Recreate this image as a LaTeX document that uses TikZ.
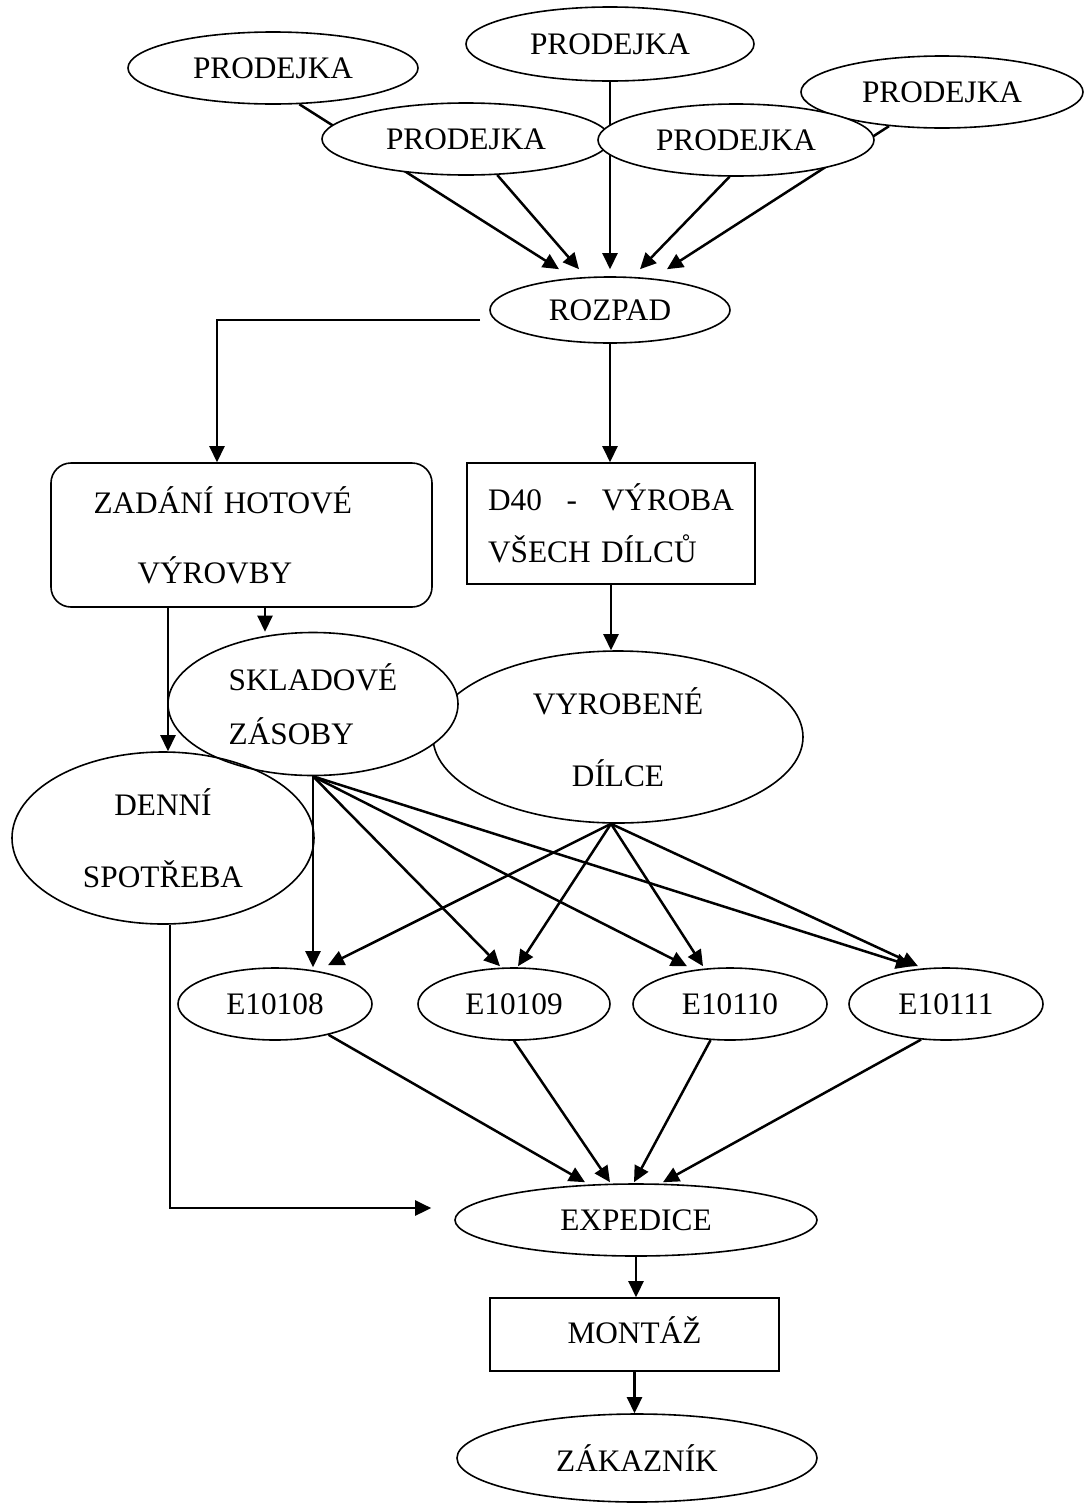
\documentclass[tikz,border=0pt]{standalone}
\usepackage{fontspec}
\setmainfont{Liberation Serif}
\usetikzlibrary{shapes.geometric, arrows.meta, calc}

\begin{document}
\begin{tikzpicture}[x=1pt, y=-1pt, font=\fontsize{31.3}{37.5}\selectfont,
  oval/.style={draw, ellipse, line width=1.6pt, inner sep=0pt},
  box/.style={draw, rectangle, line width=1.6pt, inner sep=0pt},
  arr/.style={line width=2.5pt, -{Triangle[length=16pt, width=15pt]}}]

\useasboundingbox (0,0) rectangle (1086,1505);

\node[oval, minimum width=290pt, minimum height=72pt] (tl) at (273,68) {PRODEJKA};
\node[oval, minimum width=288pt, minimum height=74pt] (tc) at (610,44) {PRODEJKA};
\node[oval, minimum width=282pt, minimum height=72pt] (tr) at (942,92) {PRODEJKA};
\node[oval, minimum width=240pt, minimum height=66pt] (rozpad) at (610,310) {ROZPAD};

\draw[arr] (tl.-54) -- ($(rozpad.north)+(-51,-7)$);
\draw[arr] (tc) -- ($(rozpad.north)+(0,-7)$);
\draw[arr] (tr) -- ($(rozpad.north)+(57,-7)$);

\node[oval, fill=white, minimum width=288pt, minimum height=72pt] (ml) at (466,139) {PRODEJKA};
\node[oval, fill=white, minimum width=276pt, minimum height=72pt] (mr) at (736,140) {PRODEJKA};

\draw[arr] (ml) -- ($(rozpad.north)+(-31,-7)$);
\draw[arr] (mr.-100) -- ($(rozpad.north)+(30,-7)$);

\node[box, rounded corners=20pt, minimum width=381pt, minimum height=144pt, text width=296pt, align=left] (zadani) at (241.5,535) {ZADÁNÍ HOTOVÉ\\[32.5pt]\hspace*{44pt}VÝROVBY};
\node[box, minimum width=288pt, minimum height=121pt, text width=246pt, align=left] (d40) at (611,523.5) {D40\hfill-\hfill VÝROBA\\[14.5pt]VŠECH DÍLCŮ};

\node[oval, minimum width=370pt, minimum height=172pt, align=center] (vyrobene) at (618,737) {VYROBENÉ\\[34.5pt]DÍLCE};
\node[oval, fill=white, minimum width=290pt, minimum height=143pt, align=left] (skladove) at (313,704) {SKLADOVÉ\\[16.5pt]ZÁSOBY};
\node[oval, minimum width=302pt, minimum height=172pt, align=center] (denni) at (163,838) {DENNÍ\\[34.5pt]SPOTŘEBA};

\node[oval, minimum width=194pt, minimum height=72pt] (e1) at (275,1004) {E10108};
\node[oval, minimum width=192pt, minimum height=72pt] (e2) at (514,1004) {E10109};
\node[oval, minimum width=194pt, minimum height=72pt] (e3) at (730,1004) {E10110};
\node[oval, minimum width=194pt, minimum height=72pt] (e4) at (946,1004) {E10111};

\node[oval, minimum width=362pt, minimum height=72pt] (expedice) at (636,1220) {EXPEDICE};
\node[box, minimum width=289pt, minimum height=73pt, text depth=8pt] (montaz) at (634.5,1334.5) {MONTÁŽ};
\node[oval, minimum width=360pt, minimum height=88pt] (zakaznik) at (637,1458) {ZÁKAZNÍK};

\draw[arr] ($(rozpad.west)+(-9,10)$) -| ($(zadani.north)+(-24.5,0)$);
\draw[arr] (rozpad.south) -- (rozpad.south |- d40.north);
\draw[arr] (d40.south) -- (d40.south |- vyrobene.north);

\coordinate (zs1) at ($(zadani.south)+(-73.5,0)$);
\coordinate (zs2) at ($(zadani.south)+(23.5,0)$);
\draw[arr] (zs1) -- (zs1 |- denni.north);
\draw[arr] (zs2) -- (zs2 |- skladove.north);

\draw[arr] (skladove.south) -- (skladove.south |- e1.north);
\draw[arr] (skladove.south) -- ($(e2.north)+(-14,-1)$);
\draw[arr] (skladove.south) -- ($(e3.north)+(-43,-1)$);
\draw[arr] (skladove.south) -- ($(e4.north)+(-34,-1)$);

\coordinate (vs) at ($(vyrobene.south)+(-7,0)$);
\draw[arr] (vs) -- ($(e1.north)+(53,-2)$);
\draw[arr] (vs) -- ($(e2.north)+(4,-1)$);
\draw[arr] (vs) -- ($(e3.north)+(-27,-1)$);
\draw[arr] (vs) -- ($(e4.north)+(-28,-1)$);

\draw[arr] (e1) -- ($(expedice.north)+(-51,-1)$);
\draw[arr] (e2.south) -- ($(expedice.north)+(-26,-1)$);
\draw[arr] (e3) -- ($(expedice.north)+(-2,-1)$);
\draw[arr] (e4.-125) -- ($(expedice.north)+(27,-1)$);

\draw[arr] ($(denni.south)+(7,0)$) |- ($(expedice.west)+(-23,-12)$);
\draw[arr] (expedice.south) -- (expedice.south |- montaz.north);
\draw[arr] (montaz.south) -- (montaz.south |- zakaznik.north);

\end{tikzpicture}
\end{document}
